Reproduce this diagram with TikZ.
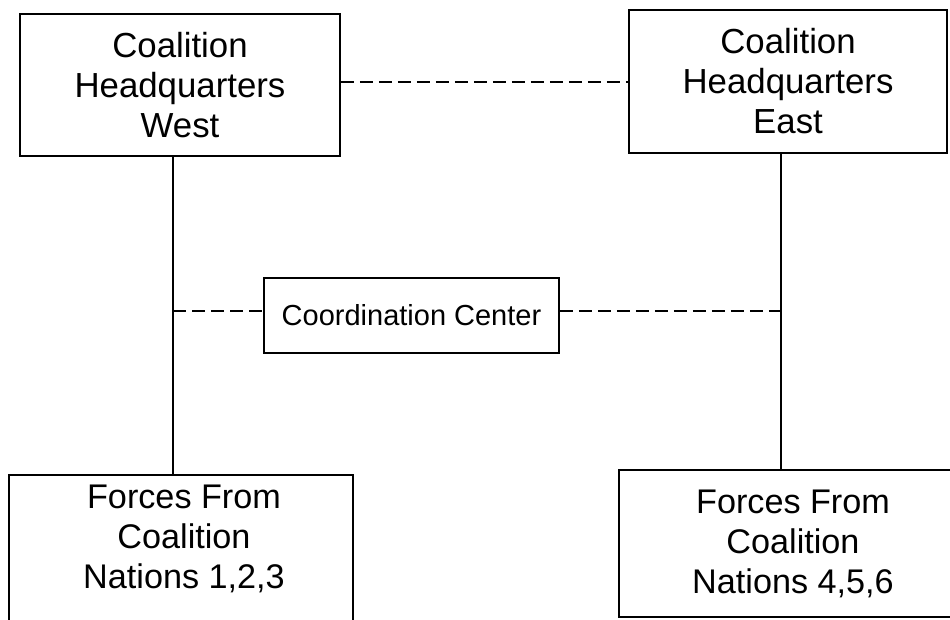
\documentclass[tikz,border=0pt]{standalone}
\usepackage{fontspec}
\setmainfont{Liberation Sans}
\begin{document}
\begin{tikzpicture}[x=1pt,y=-1pt,
  box/.style={draw, line width=1.8pt, inner sep=0pt, align=center},
  conn/.style={line width=1.8pt},
  dconn/.style={line width=1.8pt, dash pattern=on 13pt off 6pt},
  big/.style={font=\fontsize{34.8}{40}\selectfont},
  bigb/.style={font=\fontsize{34.2}{40}\selectfont},
  mid/.style={font=\fontsize{29}{34}\selectfont}]
\useasboundingbox (0,0) rectangle (950,619);
\clip (0,0) rectangle (950,619);
% top boxes
\node[box, big, minimum width=320, minimum height=142] (hw) at (180,85) {Coalition\\Headquarters\\West};
\node[box, big, minimum width=318, minimum height=143] (he) at (788,81.5) {Coalition\\Headquarters\\East};
% coordination center
\node[box, mid, minimum width=295, minimum height=75] (cc) at (411.5,315.5) {Coordination Center};
% bottom boxes
\node[box, minimum width=344, minimum height=200, anchor=north west] (flbox) at (8,474) {};
\node[bigb, align=center] (fl) at (184,539) {Forces From\\Coalition\\Nations 1,2,3};
\node[box, bigb, minimum width=348, minimum height=147] (fr) at (793,543.5) {Forces From\\Coalition\\Nations 4,5,6};
% vertical lines
\coordinate (wl) at (173,0);
\coordinate (el) at (781,0);
\draw[conn] (hw.south -| wl) -- (flbox.north -| wl);
\draw[conn] (he.south -| el) -- (fr.north -| el);
% dashed links
\coordinate (ty) at (0,82);
\coordinate (my) at (0,311);
\draw[dconn] (hw.east |- ty) -- (he.west |- ty);
\draw[dconn] (wl |- my) -- (cc.west |- my);
\draw[dconn] (cc.east |- my) -- (el |- my);
\end{tikzpicture}
\end{document}
